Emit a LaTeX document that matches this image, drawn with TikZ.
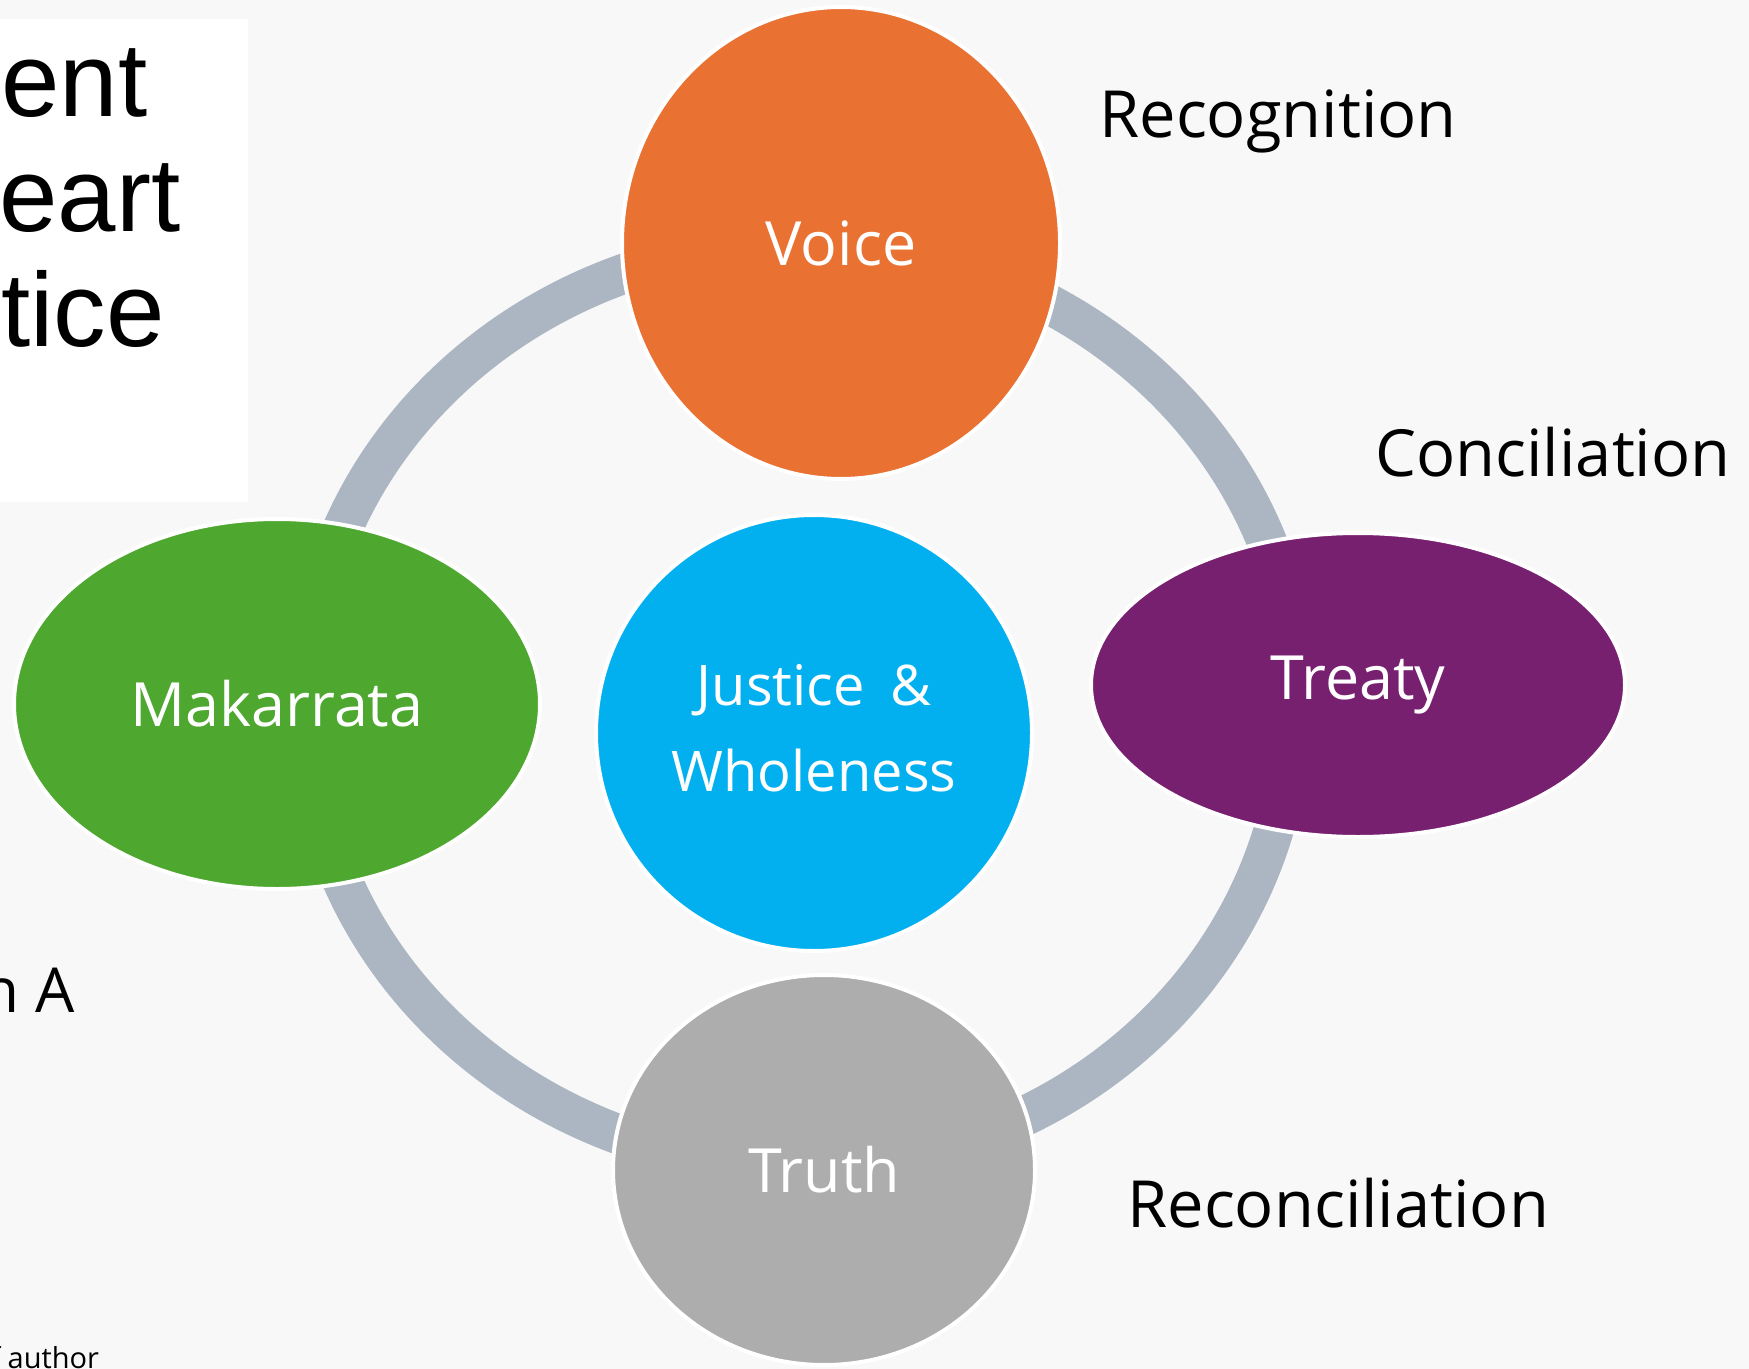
\documentclass[tikz,border=0pt]{standalone}
\usepackage{fontspec}
\setmainfont{Open Sans}
\newfontfamily\arialf{Liberation Sans}
\usetikzlibrary{shapes.geometric}
\definecolor{bgc}{HTML}{F8F8F8}
\definecolor{bandc}{HTML}{ABB6C2}
\definecolor{cvoice}{HTML}{E97132}
\definecolor{cmak}{HTML}{4EA72E}
\definecolor{ctreaty}{HTML}{782070}
\definecolor{cjust}{HTML}{02B0F0}
\definecolor{ctruth}{HTML}{ADADAD}
\begin{document}
\begin{tikzpicture}[x=0.5pt,y=-0.5pt,
  blob/.style={ellipse, draw=white, line width=2pt, inner sep=0pt, text=white,
    font=\fontsize{30.5}{36}\selectfont},
  band/.style={line width=20pt, draw=bandc},
  lbl/.style={anchor=base west, inner sep=0pt, text=black, font=\fontsize{32.5}{38}\selectfont},
  bigtxt/.style={anchor=base west, inner sep=0pt, text=black, font=\arialf\fontsize{52.5}{60}\selectfont}]
\useasboundingbox (0,0) rectangle (1749,1369);
\fill[bgc] (0,0) rectangle (1749,1369);
\begin{scope}
\clip (0,0) rectangle (1749,1369);
% white title box (clipped)
\fill[white] (0,19) rectangle (248,502);
\node[bigtxt] (t1) at (1,117) {ent};
\node[bigtxt] (t2) at (-1,232) {eart};
\node[bigtxt] (t3) at (1,347) {tice};
% ring connectors
\draw[band] plot[domain=-85:-180, samples=90, smooth] ({802+497*cos(\x)}, {705+462*sin(\x)});
\draw[band] plot[domain=-85:0, samples=90, smooth] ({802+497*cos(\x)}, {705+462*sin(\x)});
\draw[band] plot[domain=0:87.5, samples=90, smooth] ({800+492*cos(\x)}, {705+462*sin(\x)});
\draw[band] plot[domain=87.5:180, samples=90, smooth] ({802+497*cos(\x)}, {705+462*sin(\x)});
% nodes
\node[blob, fill=cvoice, minimum width=219pt, minimum height=236pt] (voice) at (841,243) {Voice};
\node[blob, fill=cmak, minimum width=263pt, minimum height=185pt] (mak) at (277,704) {Makarrata};
\node[blob, fill=ctreaty, minimum width=267pt, minimum height=152pt] (treaty) at (1358,685) {Treaty};
\node[blob, fill=cjust, minimum width=218pt, minimum height=218pt, align=center,
  font=\fontsize{28}{43}\selectfont] (just) at (814,733) {Justice\hspace{0.45em}\&\\Wholeness\rule[-5pt]{0pt}{1pt}};
\node[blob, fill=ctruth, minimum width=211pt, minimum height=195pt] (truth) at (824,1170) {Truth};
% labels
\node[lbl] (rec) at (1099,138) {Recognition};
\node[lbl] (con) at (1375,476) {Conciliation};
\node[lbl] (recon) at (1127,1227) {Reconciliation};
\node[anchor=base east, inner sep=0pt, font=\fontsize{31}{36}\selectfont] (na) at (75,1012) {n A};
\node[anchor=base west, inner sep=0pt, font=\fontsize{14.5}{17}\selectfont] (auth) at (-10,1368) {f author};
\end{scope}
\end{tikzpicture}
\end{document}
